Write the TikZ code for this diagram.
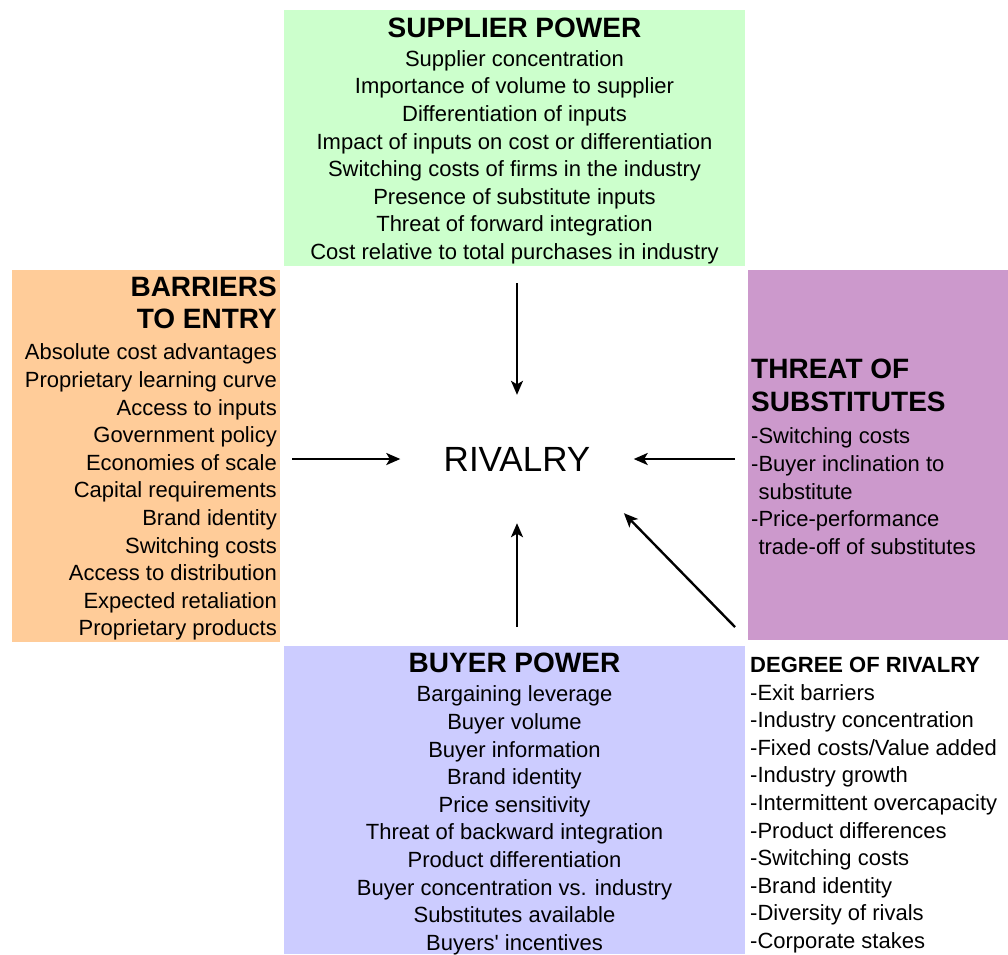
\documentclass[tikz,border=0pt]{standalone}
\usepackage{fontspec}
\setmainfont{Liberation Sans}[Ligatures=TeXOff]
\usepackage{tikz}
\usetikzlibrary{arrows.meta}

\definecolor{supgreen}{HTML}{CCFFCC}
\definecolor{barorange}{HTML}{FFCC99}
\definecolor{thrpurple}{HTML}{CC99CC}
\definecolor{buyblue}{HTML}{CCCCFF}

\newcommand{\ttlfont}{\fontsize{28}{27.6}\selectfont\bfseries}

\tikzset{
  panel/.style={inner sep=0, outer sep=0, anchor=north west},
  items/.style={inner sep=0, font=\fontsize{22}{27.6}\selectfont},
  force/.style={->, >={Stealth[length=14pt,width=12pt,inset=3.5pt]}, line width=2.4pt}
}

\begin{document}
\begin{tikzpicture}[x=1pt, y=-1pt]
                \useasboundingbox (0,0) rectangle (1008,954);

                % Panels
                \node[panel, fill=supgreen, minimum width=461pt, minimum height=256pt] (supbox) at (284,10) {};
                \node[panel, fill=barorange, minimum width=268pt, minimum height=372pt] (barbox) at (12,270) {};
                \node[panel, fill=thrpurple, minimum width=260pt, minimum height=370pt] (thrbox) at (748,270) {};
                \node[panel, fill=buyblue, minimum width=461pt, minimum height=308pt] (buybox) at (284,646) {};

                % Supplier power
                \node[items, align=center, anchor=north] (suptext) at (514.5,18) {{\ttlfont SUPPLIER POWER}\\[1pt]
                    Supplier concentration\\ Importance of volume to supplier\\ Differentiation of inputs\\
                    Impact of inputs on cost or differentiation\\ Switching costs of firms in the industry\\
                    Presence of substitute inputs\\ Threat of forward integration\\
                    Cost relative to total purchases in industry};

                % Barriers to entry
                \node[items, align=right, anchor=north east] (bartext) at (277,277) {{\ttlfont BARRIERS}\\[4pt]
                    {\ttlfont TO ENTRY}\\[4pt]
                    Absolute cost advantages\\ Proprietary learning curve\\ Access to inputs\\ Government policy\\
                    Economies of scale\\ Capital requirements\\ Brand identity\\ Switching costs\\
                    Access to distribution\\ Expected retaliation\\ Proprietary products};

                % Threat of substitutes
                \node[items, align=left, anchor=north west] (thrtext) at (751,359) {{\ttlfont THREAT OF}\\[5pt]
                    {\ttlfont SUBSTITUTES}\\[5pt]
                    -Switching costs\\ -Buyer inclination to\\ \phantom{-}substitute\\
                    -Price-performance\\ \phantom{-}trade-off of substitutes};

                % Buyer power
                \node[items, align=center, anchor=north] (buytext) at (514.5,653) {{\ttlfont BUYER POWER}\\[1.5pt]
                    Bargaining leverage\\ Buyer volume\\ Buyer information\\ Brand identity\\ Price sensitivity\\
                    Threat of backward integration\\ Product differentiation\\ Buyer concentration vs. industry\\
                    Substitutes available\\ Buyers' incentives};

                % Degree of rivalry
                \node[items, align=left, anchor=north west] (degtext) at (750,657) {\textbf{DEGREE OF RIVALRY}\\
                    -Exit barriers\\ -Industry concentration\\ -Fixed costs/Value added\\ -Industry growth\\
                    -Intermittent overcapacity\\ -Product differences\\ -Switching costs\\ -Brand identity\\
                    -Diversity of rivals\\ -Corporate stakes};

                % Rivalry
                \node[inner sep=0, minimum width=233pt, minimum height=128pt,
                      font=\fontsize{35}{40}\selectfont] (rivalry) at (517,459) {RIVALRY};

                % Arrows
                \coordinate (fromsup) at (517,283);
                \coordinate (frombar) at (292,459);
                \coordinate (fromthr) at (735,459);
                \coordinate (frombuy) at (517,627);
                \coordinate (fromdeg) at (735,627);
                \draw[force, line width=2pt] (fromsup) -- (rivalry.north);
                \draw[force] (frombar) -- (rivalry.west);
                \draw[force] (fromthr) -- (rivalry.east);
                \draw[force] (frombuy) -- (rivalry.south);
                \draw[force, shorten >=-14pt] (fromdeg) -- (rivalry.south east);
            \end{tikzpicture}
\end{document}
